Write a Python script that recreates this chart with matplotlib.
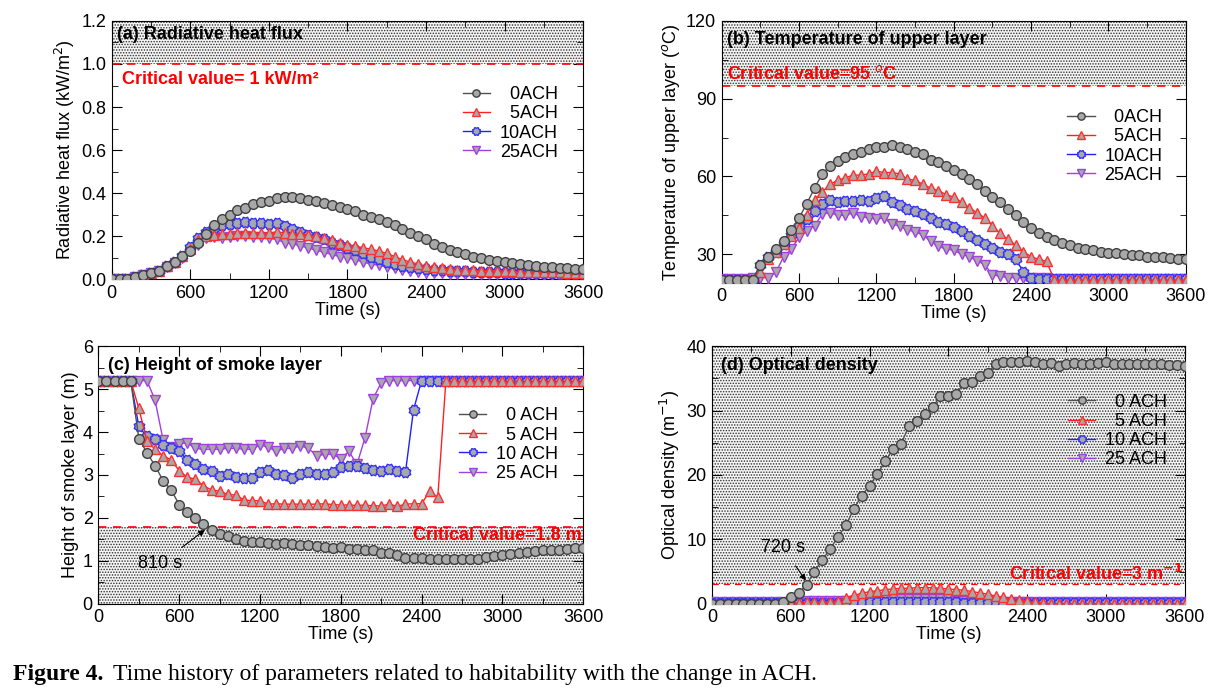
import numpy as np
import matplotlib
matplotlib.use("Agg")
import matplotlib.pyplot as plt
from matplotlib.ticker import MultipleLocator, FormatStrFormatter
from matplotlib.path import Path

plt.rcParams['font.family'] = ['Liberation Sans', 'DejaVu Sans']
plt.rcParams['hatch.linewidth'] = 0.7

# ---------------- data ----------------
time_s = np.arange(0, 3601, 60)
series_labels_ab = ["  0ACH", "  5ACH", "10ACH", "25ACH"]
series_labels_cd = ["  0 ACH", "  5 ACH", "10 ACH", "25 ACH"]

rhf_0 = [0.0, 0.0, 0.0, 0.01, 0.02, 0.03, 0.04, 0.06, 0.08, 0.11,
         0.13, 0.17, 0.21, 0.25, 0.28, 0.30, 0.32, 0.33, 0.35, 0.36,
         0.365, 0.375, 0.38, 0.38, 0.375, 0.37, 0.365, 0.355, 0.345, 0.335,
         0.325, 0.315, 0.30, 0.29, 0.28, 0.265, 0.25, 0.235, 0.215, 0.20,
         0.185, 0.165, 0.15, 0.135, 0.125, 0.115, 0.105, 0.10, 0.09, 0.085,
         0.08, 0.075, 0.07, 0.065, 0.06, 0.058, 0.055, 0.052, 0.05, 0.048,
         0.046]
rhf_5 = [0.0, 0.0, 0.0, 0.01, 0.02, 0.03, 0.04, 0.06, 0.08, 0.11,
         0.14, 0.18, 0.20, 0.205, 0.21, 0.21, 0.215, 0.215, 0.215, 0.215,
         0.215, 0.22, 0.215, 0.21, 0.21, 0.205, 0.20, 0.19, 0.18, 0.17,
         0.16, 0.155, 0.145, 0.14, 0.13, 0.12, 0.105, 0.09, 0.08, 0.07,
         0.06, 0.055, 0.05, 0.048, 0.045, 0.043, 0.042, 0.04, 0.04, 0.038,
         0.037, 0.036, 0.035, 0.035, 0.034, 0.033, 0.033, 0.032, 0.031, 0.031,
         0.03]
rhf_10 = [0.0, 0.0, 0.0, 0.01, 0.02, 0.03, 0.04, 0.06, 0.08, 0.11,
          0.15, 0.19, 0.22, 0.24, 0.25, 0.255, 0.26, 0.265, 0.26, 0.26,
          0.255, 0.26, 0.245, 0.235, 0.22, 0.205, 0.195, 0.185, 0.17, 0.16,
          0.145, 0.135, 0.12, 0.105, 0.095, 0.08, 0.07, 0.06, 0.055, 0.05,
          0.047, 0.045, 0.042, 0.04, 0.038, 0.036, 0.035, 0.034, 0.033, 0.032,
          0.031, 0.03, 0.03, 0.029, 0.028, 0.028, 0.027, 0.026, 0.026, 0.025,
          0.025]
rhf_25 = [0.0, 0.0, 0.0, 0.01, 0.02, 0.03, 0.04, 0.055, 0.075, 0.10,
          0.13, 0.16, 0.19, 0.195, 0.19, 0.195, 0.20, 0.20, 0.195, 0.195,
          0.19, 0.185, 0.17, 0.165, 0.155, 0.145, 0.135, 0.125, 0.115, 0.105,
          0.10, 0.09, 0.08, 0.07, 0.065, 0.055, 0.05, 0.042, 0.036, 0.033,
          0.03, 0.028, 0.027, 0.026, 0.025, 0.025, 0.024, 0.024, 0.023, 0.023,
          0.022, 0.022, 0.022, 0.021, 0.021, 0.021, 0.02, 0.02, 0.02, 0.02,
          0.02]

temp_0 = [20, 20, 20, 20, 20, 26, 29, 32, 35, 39.5,
          44, 49.5, 55.5, 61, 64, 66, 67.5, 68.5, 69.5, 70.5,
          71.5, 71.5, 72, 71.5, 70.5, 69.5, 68.5, 66.5, 65.5, 64,
          62.5, 61, 59, 57, 54.5, 52, 50, 47.5, 45, 42.5,
          40, 38, 36.5, 35.5, 34.5, 33.5, 32.5, 32, 31.5, 31,
          30.5, 30.3, 30, 29.5, 29.5, 29, 29, 28.8, 28.5, 28.3,
          28.3]
temp_5 = [20, 20, 20, 20, 20, 23, 28, 31, 34, 37,
          40, 45, 51, 54, 57, 58.5, 59.5, 60.5, 60.5, 61,
          62, 61.5, 61.5, 61, 59, 58.5, 57, 55.5, 54.5, 53,
          52, 50, 48, 46, 44, 41, 38, 35.7, 33.5, 31,
          29, 28, 27.2, 20, 20, 20, 20, 20, 20, 20,
          20, 20, 20, 20, 20, 20, 20, 20, 20, 20,
          20]
temp_10 = [20, 20, 20, 20, 20, 26, 29, 31, 34, 37.5,
           41, 43.5, 46.5, 49.5, 51, 50, 50.5, 50.5, 51, 50.5,
           51.5, 52.5, 50, 49, 47.5, 46.5, 45.5, 44, 42.5, 41.5,
           40.3, 39, 37, 35.5, 34, 32.5, 31, 30, 28, 23.3,
           21, 20.5, 20.5, 20.5, 20.5, 20.5, 20.5, 20.5, 20.5, 20.5,
           20.5, 20.5, 20.5, 20.5, 20.5, 20.5, 20.5, 20.5, 20.5, 20.5,
           20.5]
temp_25 = [20.5, 20.5, 20.5, 20.5, 21, 21, 21, 23, 29, 32,
           36.5, 39, 41, 45.5, 46, 45, 45, 46, 44.5, 44,
           43.5, 44, 41.5, 41, 39.5, 38.5, 37.5, 35, 33, 32,
           31.5, 30, 29, 27.5, 26, 22, 21.5, 21, 21, 20.8,
           20.8, 20.8, 20.8, 20.5, 20.5, 20.5, 20.5, 20.5, 20.5, 20.5,
           20.5, 20.5, 20.5, 20.5, 20.5, 20.5, 20.5, 20.5, 20.5, 20.5,
           20.5]

smoke_0 = [5.2, 5.2, 5.2, 5.2, 5.2, 3.85, 3.52, 3.22, 2.87, 2.65,
           2.31, 2.14, 1.99, 1.86, 1.73, 1.63, 1.57, 1.51, 1.46, 1.45,
           1.44, 1.41, 1.40, 1.41, 1.40, 1.38, 1.37, 1.34, 1.32, 1.31,
           1.32, 1.28, 1.28, 1.26, 1.25, 1.19, 1.19, 1.13, 1.07, 1.06,
           1.06, 1.05, 1.05, 1.04, 1.04, 1.04, 1.05, 1.05, 1.08, 1.11,
           1.13, 1.15, 1.19, 1.21, 1.23, 1.25, 1.26, 1.26, 1.27, 1.30,
           1.30]
smoke_5 = [5.2, 5.2, 5.2, 5.2, 5.2, 4.55, 3.8, 3.6, 3.45, 3.35,
           3.1, 2.95, 2.9, 2.75, 2.65, 2.62, 2.55, 2.53, 2.42, 2.40,
           2.40, 2.32, 2.33, 2.32, 2.32, 2.32, 2.32, 2.32, 2.33, 2.31,
           2.30, 2.30, 2.29, 2.30, 2.28, 2.28, 2.32, 2.27, 2.32, 2.33,
           2.33, 2.62, 2.48, 5.18, 5.18, 5.18, 5.18, 5.18, 5.18, 5.18,
           5.18, 5.18, 5.18, 5.18, 5.18, 5.18, 5.18, 5.18, 5.18, 5.18,
           5.18]
smoke_10 = [5.2, 5.2, 5.2, 5.2, 5.2, 4.13, 3.9, 3.85, 3.7, 3.62,
            3.55, 3.35, 3.25, 3.15, 3.1, 2.98, 3.02, 2.95, 2.94, 2.94,
            3.07, 3.12, 3.02, 3.01, 2.94, 3.03, 3.07, 3.03, 3.03, 3.08,
            3.19, 3.20, 3.20, 3.17, 3.12, 3.10, 3.15, 3.10, 3.06, 4.52,
            5.2, 5.2, 5.2, 5.2, 5.2, 5.2, 5.2, 5.2, 5.2, 5.2,
            5.2, 5.2, 5.2, 5.2, 5.2, 5.2, 5.2, 5.2, 5.2, 5.2,
            5.2]
smoke_25 = [5.2, 5.2, 5.2, 5.2, 5.2, 5.2, 5.2, 4.75, 3.82, 3.65,
            3.73, 3.75, 3.62, 3.6, 3.6, 3.6, 3.62, 3.62, 3.6, 3.6,
            3.7, 3.65, 3.55, 3.62, 3.62, 3.68, 3.62, 3.45, 3.48, 3.48,
            3.38, 3.55, 3.25, 3.87, 4.78, 5.15, 5.2, 5.2, 5.2, 5.2,
            5.2, 5.2, 5.2, 5.2, 5.2, 5.2, 5.2, 5.2, 5.2, 5.2,
            5.2, 5.2, 5.2, 5.2, 5.2, 5.2, 5.2, 5.2, 5.2, 5.2,
            5.2]

od_0 = [0, 0, 0, 0, 0, 0, 0, 0, 0, 0.3,
        1.0, 1.66, 2.95, 5.0, 6.8, 8.5, 10.4, 12.2, 14.7, 16.8,
        18.3, 20.2, 22.1, 24.1, 24.8, 27.6, 28.4, 29.4, 30.6, 32.2,
        32.2, 32.6, 34.3, 34.5, 35.3, 35.8, 37.2, 37.5, 37.6, 37.6,
        37.7, 37.5, 37.3, 37.4, 37.0, 37.2, 37.4, 37.2, 37.3, 37.4,
        37.5, 37.3, 37.2, 37.2, 37.3, 37.2, 37.2, 37.2, 37.1, 37.1,
        37.0]
od_5 = [0, 0, 0, 0, 0, 0, 0, 0, 0, 0,
        0, 0.1, 0.2, 0.2, 0.3, 0.3, 0.5, 0.9, 1.3, 1.6,
        1.9, 2.0, 2.2, 2.3, 2.4, 2.4, 2.5, 2.5, 2.5, 2.4,
        2.3, 2.2, 2.1, 1.9, 1.7, 1.5, 1.2, 1.0, 0.8, 0.6,
        0.4, 0.2, 0.1, 0, 0, 0, 0, 0, 0, 0,
        0, 0, 0, 0, 0, 0, 0, 0, 0, 0,
        0]
od_10 = [0.1, 0.1, 0.1, 0.1, 0.1, 0.1, 0.1, 0.1, 0.1, 0.1,
         0.1, 0.1, 0.1, 0.1, 0.1, 0.1, 0.1, 0.1, 0.1, 0.2,
         0.3, 0.3, 0.3, 0.3, 0.3, 0.3, 0.3, 0.3, 0.3, 0.3,
         0.3, 0.2, 0.1, 0.1, 0.1, 0.1, 0.1, 0.1, 0.1, 0.1,
         0.1, 0.1, 0.1, 0.1, 0.1, 0.1, 0.1, 0.1, 0.1, 0.1,
         0.1, 0.1, 0.1, 0.1, 0.1, 0.1, 0.1, 0.1, 0.1, 0.1,
         0.1]
od_25 = [0.3, 0.3, 0.3, 0.3, 0.3, 0.3, 0.3, 0.3, 0.3, 0.3,
         0.5, 0.5, 0.5, 0.5, 0.5, 0.5, 0.5, 0.5, 0.5, 0.5,
         0.5, 0.7, 0.7, 0.7, 0.7, 0.7, 0.7, 0.7, 0.7, 0.7,
         0.7, 0.5, 0.5, 0.5, 0.5, 0.5, 0.3, 0.3, 0.3, 0.3,
         0.3, 0.3, 0.3, 0.3, 0.3, 0.3, 0.3, 0.3, 0.3, 0.3,
         0.3, 0.3, 0.3, 0.3, 0.3, 0.3, 0.3, 0.3, 0.3, 0.3,
         0.3]

# ---------------- style ----------------
# eight-pointed "stamp" marker for the 10 ACH series
_ang = np.deg2rad(np.arange(16) * 22.5 + 22.5)
_rad = np.where(np.arange(16) % 2 == 0, 1.0, 0.78)
_verts = np.column_stack([_rad * np.cos(_ang), _rad * np.sin(_ang)])
_verts = np.vstack([_verts, _verts[:1]])
star8 = Path(_verts, [Path.MOVETO] + [Path.LINETO] * 15 + [Path.CLOSEPOLY])

line_colors = ["#505050", "#ff2020", "#2020ff", "#a040e0"]
edge_colors = ["#404040", "#ff3030", "#3030ff", "#a040e0"]
face_color = "#a8a8a8"
markers = ["o", "^", star8, "v"]
msizes = [7, 7, 7.5, 7]

fig = plt.figure(figsize=(12.15, 6.98), dpi=100)
axA = fig.add_axes([0.092, 0.600, 0.388, 0.370])
axB = fig.add_axes([0.594, 0.595, 0.382, 0.375])
axC = fig.add_axes([0.081, 0.135, 0.399, 0.369])
axD = fig.add_axes([0.586, 0.135, 0.389, 0.369])

FS = 13


def style_axis(ax, ymin, ymax, ymajor, yminor, ylabel):
    ax.set_xlim(0, 3600)
    ax.set_ylim(ymin, ymax)
    ax.xaxis.set_major_locator(MultipleLocator(600))
    ax.xaxis.set_minor_locator(MultipleLocator(300))
    ax.yaxis.set_major_locator(MultipleLocator(ymajor))
    ax.yaxis.set_minor_locator(MultipleLocator(yminor))
    ax.tick_params(which='both', direction='in', top=True, right=True,
                   labelsize=FS, pad=4)
    ax.tick_params(which='major', length=7)
    ax.tick_params(which='minor', length=4)
    ax.set_xlabel("Time (s)", fontsize=FS, labelpad=0)
    ax.set_ylabel(ylabel, fontsize=FS, labelpad=3)
    for sp in ax.spines.values():
        sp.set_linewidth(0.8)


def shade(ax, y0, y1):
    ax.axhspan(y0, y1, facecolor='#f4f4f4', edgecolor='#303030',
               hatch='......', linewidth=0, zorder=0)


def draw_series(ax, ys, labels):
    zorders = [3.5, 3.3, 3.2, 3.1]
    for i, y in enumerate(ys):
        ax.plot(time_s, y, color=line_colors[i], lw=1.0,
                marker=markers[i], ms=msizes[i], mfc=face_color,
                mec=edge_colors[i], mew=1.0, label=labels[i],
                zorder=zorders[i])


def add_legend(ax, anchor_x, anchor_y):
    ax.legend(loc='upper right', bbox_to_anchor=(anchor_x, anchor_y), frameon=False,
              fontsize=FS, handlelength=1.5, handletextpad=0.55,
              labelspacing=0.125, borderaxespad=0.2, markerscale=0.75)


# (a)
shade(axA, 1.0, 1.2)
axA.axhline(1.0, color='red', ls=(0, (5, 4)), lw=1.2, zorder=2)
draw_series(axA, [rhf_0, rhf_5, rhf_10, rhf_25], series_labels_ab)
style_axis(axA, 0, 1.2, 0.2, 0.1, "Radiative heat flux (kW/m$^2$)")
axA.yaxis.set_major_formatter(FormatStrFormatter('%.1f'))
axA.text(40, 1.135, "(a) Radiative heat flux", fontsize=FS, fontweight='bold',
         va='center', ha='left')
axA.text(80, 0.93, "Critical value= 1 kW/m\u00b2", fontsize=FS, fontweight='bold',
         color='red', va='center', ha='left')
add_legend(axA, 0.969, 0.79)

# (b)
shade(axB, 95, 120)
axB.axhline(95, color='red', ls=(0, (5, 4)), lw=1.2, zorder=2)
draw_series(axB, [temp_0, temp_5, temp_10, temp_25], series_labels_ab)
style_axis(axB, 19, 120, 30, 15, "Temperature of upper layer ($^o$C)")
axB.text(40, 113, "(b) Temperature of upper layer", fontsize=FS, fontweight='bold',
         va='center', ha='left')
axB.text(40, 99.5, "Critical value=95 $^o$C", fontsize=FS, fontweight='bold',
         color='red', va='center', ha='left')
add_legend(axB, 0.973, 0.705)

# (c)
shade(axC, 0, 1.8)
axC.axhline(1.8, color='red', ls=(0, (5, 4)), lw=1.2, zorder=2)
draw_series(axC, [smoke_0, smoke_5, smoke_10, smoke_25], series_labels_cd)
style_axis(axC, 0, 6, 1, 0.5, "Height of smoke layer (m)")
axC.text(70, 5.55, "(c) Height of smoke layer", fontsize=FS, fontweight='bold',
         va='center', ha='left')
axC.text(3590, 1.6, "Critical value=1.8 m", fontsize=FS, fontweight='bold',
         color='red', va='center', ha='right')
axC.annotate("810 s", xy=(790, 1.72), xytext=(460, 0.93), fontsize=FS,
             ha='center', va='center',
             arrowprops=dict(arrowstyle='-|>', color='black', lw=0.8,
                             mutation_scale=9, shrinkA=6, shrinkB=0))
add_legend(axC, 0.971, 0.805)

# (d)
shade(axD, 3, 40)
axD.axhline(3, color='red', ls=(0, (5, 4)), lw=0.9, zorder=2)
draw_series(axD, [od_0, od_5, od_10, od_25], series_labels_cd)
style_axis(axD, 0, 40, 10, 5, "Optical density (m$^{-1}$)")
axD.text(70, 37, "(d) Optical density", fontsize=FS, fontweight='bold',
         va='center', ha='left')
axD.text(3590, 4.6, "Critical value=3 m$^{\\mathbf{-1}}$", fontsize=FS,
         fontweight='bold', color='red', va='center', ha='right')
axD.annotate("720 s", xy=(715, 3.6), xytext=(540, 8.7), fontsize=FS,
             ha='center', va='center',
             arrowprops=dict(arrowstyle='-|>', color='black', lw=0.8,
                             mutation_scale=9, shrinkA=6, shrinkB=0))
add_legend(axD, 0.986, 0.858)

# caption
serif = ['Liberation Serif', 'DejaVu Serif']
t1 = fig.text(0.011, 0.033, "Figure 4.", fontsize=17, fontweight='bold',
              family=serif, va='center', ha='left')
fig.canvas.draw()
bb = t1.get_window_extent(renderer=fig.canvas.get_renderer())
x2 = (bb.x1 + 9) / fig.bbox.width
fig.text(x2, 0.033, "Time history of parameters related to habitability with the change in ACH.",
         fontsize=17, family=serif, va='center', ha='left')

fig.savefig("out.png", dpi=100)
